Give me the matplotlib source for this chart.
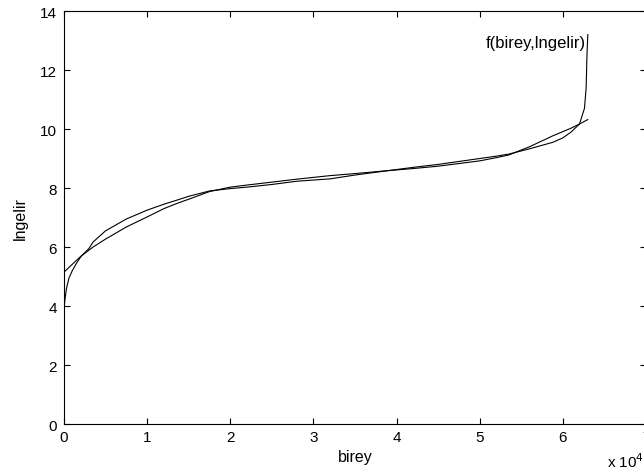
import numpy as np
import matplotlib.pyplot as plt
from matplotlib.ticker import FuncFormatter

# sorted observations (birey index vs ln income)
birey_obs = [0, 100, 300, 600, 1000, 1500, 2100, 3000, 3500, 5000, 7500, 10000,
             12000, 13700, 15000, 17500, 20000, 22000, 25000, 28000, 32000,
             35000, 39000, 42000, 45000, 47000, 50000, 52000, 53500, 56000,
             58800, 60000, 61000, 62000, 62600, 62800, 62900, 63000]
lngelir_obs = [3.8, 4.2, 4.6, 4.95, 5.2, 5.45, 5.7, 5.95, 6.17, 6.55, 6.95, 7.25,
               7.45, 7.6, 7.72, 7.9, 7.98, 8.03, 8.12, 8.23, 8.31,
               8.44, 8.59, 8.7, 8.8, 8.88, 9.0, 9.08, 9.15, 9.33,
               9.55, 9.7, 9.9, 10.17, 10.7, 11.4, 12.5, 13.2]

# fitted curve
birey_fit = [0, 2000, 3500, 5000, 7500, 10000, 12000, 13700, 15000, 17500,
             20000, 22000, 25000, 28000, 32000, 35000, 39000, 42000, 45000,
             50000, 52000, 53500, 56000, 58800, 61000, 62000, 63000]
lngelir_fit = [5.15, 5.68, 6.0, 6.27, 6.68, 7.02, 7.3, 7.49, 7.62, 7.88,
               8.03, 8.1, 8.2, 8.3, 8.42, 8.49, 8.59, 8.66, 8.74,
               8.92, 9.03, 9.12, 9.4, 9.77, 10.03, 10.17, 10.32]

plt.rcParams['font.family'] = ['Liberation Sans', 'DejaVu Sans']
fig = plt.figure(figsize=(6.44, 4.77), dpi=100)
ax = fig.add_axes([0.0994, 0.109, 0.9037, 0.8658])

ax.plot(birey_obs, lngelir_obs, color='black', linewidth=0.8)
ax.plot(birey_fit, lngelir_fit, color='black', linewidth=0.8)

ax.set_xlim(0, 70000)
ax.set_ylim(0, 14)
ax.set_xticks(np.arange(0, 70001, 10000))
ax.set_yticks(np.arange(0, 15, 2))
ax.xaxis.set_major_formatter(FuncFormatter(lambda v, p: f'{v / 1e4:g}'))
ax.tick_params(direction='in', top=True, right=True, length=4, width=0.8,
               labelsize=11)
ax.tick_params(axis='x', pad=4)
ax.tick_params(axis='y', pad=5)
for s in ax.spines.values():
  s.set_linewidth(0.8)

ax.set_xlabel('birey', fontsize=11.5, labelpad=4)
ax.set_ylabel('lngelir', fontsize=11.5, labelpad=9)
ax.text(50700, 12.94, 'f(birey,lngelir)', fontsize=12, va='center', ha='left')
fig.text(0.942, 0.012, r'x 10$^4$', fontsize=11, ha='left', va='bottom')

fig.savefig('out.png', dpi=100)
